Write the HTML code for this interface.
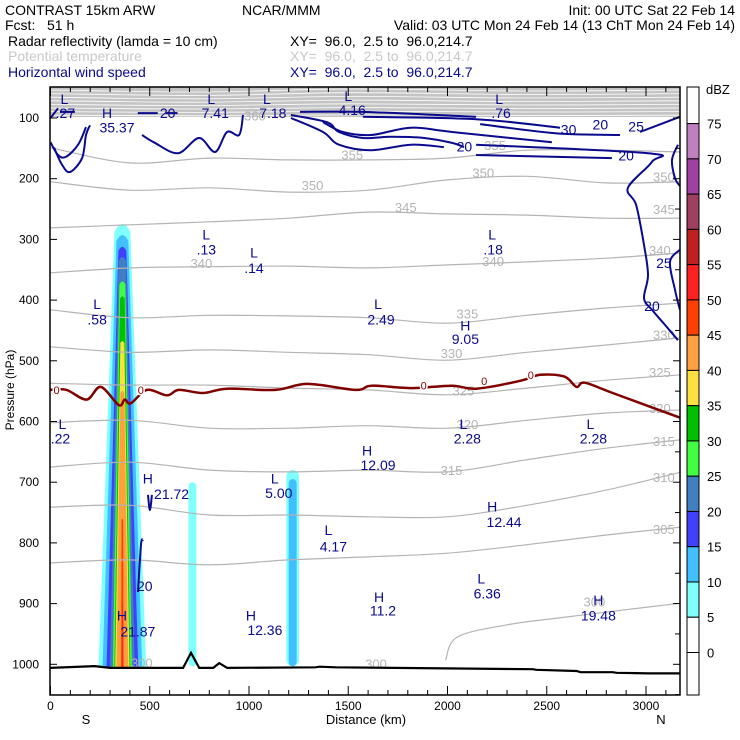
<!DOCTYPE html>
<html><head><meta charset="utf-8"><style>
html,body{margin:0;padding:0;background:#fff;}
svg{display:block;font-family:"Liberation Sans",sans-serif;}
</style></head><body>
<svg id="c" width="740" height="740" viewBox="0 0 740 740" xmlns="http://www.w3.org/2000/svg">
<g font-size="14">
<text x="5" y="15">CONTRAST 15km ARW</text>
<text x="242" y="15">NCAR/MMM</text>
<text x="735" y="15" text-anchor="end">Init: 00 UTC Sat 22 Feb 14</text>
<text x="5" y="30" xml:space="preserve">Fcst:   51 h</text>
<text x="735" y="30" text-anchor="end">Valid: 03 UTC Mon 24 Feb 14 (13 ChT Mon 24 Feb 14)</text>
<text x="8" y="46">Radar reflectivity (lamda = 10 cm)</text>
<text x="290" y="46" xml:space="preserve">XY=  96.0,  2.5 to  96.0,214.7</text>
<text x="8" y="61" fill="#c8c8c8">Potential temperature</text>
<text x="290" y="61" fill="#c8c8c8" xml:space="preserve">XY=  96.0,  2.5 to  96.0,214.7</text>
<text x="8" y="77" fill="#0a0a8c">Horizontal wind speed</text>
<text x="290" y="77" fill="#0a0a8c" xml:space="preserve">XY=  96.0,  2.5 to  96.0,214.7</text>
</g>
<defs><clipPath id="pc"><rect x="50" y="87" width="630" height="608"/></clipPath></defs>
<g id="plot" clip-path="url(#pc)"></g>
<rect x="50" y="87" width="630" height="608" fill="none" stroke="#000" stroke-width="1.5"/>
<g id="axes" font-size="12"></g>
<g id="cbar" font-size="13"></g>
<text x="366" y="724" text-anchor="middle" font-size="13">Distance (km)</text>
<text x="86" y="724" text-anchor="middle" font-size="13">S</text>
<text x="661" y="724" text-anchor="middle" font-size="13">N</text>
<text transform="translate(14,390) rotate(-90)" text-anchor="middle" font-size="12">Pressure (hPa)</text>
</svg>
<script>
// ---- data ----
const xTicks = [0,500,1000,1500,2000,2500,3000];
const yTicks = [100,200,300,400,500,600,700,800,900,1000];
const dbzLevels = [5,10,15,20,25,30,35,40,45,50];
const dbzColors = ["#80ffff","#40c0ff","#4040ff","#4080c0","#40ff40","#00c000","#ffe040","#ffa040","#ff4000","#ff2020"];
const cbarLevels = [75,70,65,60,55,50,45,40,35,30,25,20,15,10,5,0];
const cbarColors = ["#c080c0","#a040a0","#a04060","#c02020","#ff2020","#ff4000","#ffa040","#ffe040","#00c000","#40ff40","#4080c0","#4040ff","#40c0ff","#80ffff","#ffffff"];
// main convective cell
const cellKm = 362;
const cellTopP = [268,288,309,326,367,392,466,548,760,900];
const cellHwTop = [40,30,20,18,15,12,10,10,4,2];
const cellHwBot = [120,100,80,62,48,40,36,30,6,3];
// weak cells
const weakKm = [715,1220,1220];
const weakTopP = [700,680,695];
const weakHw = [20,32,20];
const weakLevel = [5,5,10];
// potential temperature
const thetaLevels = [355,350,345,340,335,330,325,320,315,310,305];
const thetaKm = [0,400,800,1200,1600,2000,2400,2800,3180];
const thetaP = [
 [149,174,166,169,169,166,153,153,156],
 [205,219,215,222,219,202,196,207,205],
 [281,276,271,265,255,258,260,265,265],
 [355,347,345,344,347,342,337,331,322],
 [416,429,425,426,429,438,425,413,405],
 [477,486,482,486,490,499,486,474,462],
 [537,540,540,545,548,556,545,532,523],
 [602,598,611,611,607,611,598,586,581],
 [675,667,680,683,680,683,663,644,630],
 [741,738,754,754,757,757,738,713,683],
 [833,828,836,828,823,817,803,787,774]];
const theta300Km = [1990,2050,2300,2600,2900,3180];
const theta300P = [993,955,935,922,910,899];
// freezing level
const frzKm = [0,81,182,253,344,374,405,486,587,647,769,890,1133,1295,1538,1618,1821,2023,2144,2367,2468,2589,2650,2691,2832,3156,3200];
const frzP = [548,548,564,543,573,564,570,548,557,548,553,546,548,538,548,541,545,541,546,533,523,526,543,536,553,592,596];
// terrain
const terKm = [0,222,300,668,708,749,820,850,890,1335,1355,1436,2428,2448,2650,2670,2832,2852,3014,3200];
const terP = [1006,1003,1006,1006,981,1006,1006,998,1006,1005,1004,1005,1008,1009,1011,1013,1013,1014,1015,1015];
// wind speed contours [km,hPa]
const windLines = [
 [[18,149],[58,177],[98,189],[159,166],[179,128],[199,112]],
 [[0,140],[38,161],[78,164],[139,144],[179,115]],
 [[0,100],[38,84]],[[48,90],[123,90]],
 [[461,128],[521,140],[642,158],[748,133],[829,156],[889,123],[950,128],[970,95]],
 [[440,92],[540,92]],[[580,92],[640,92]],
 [[1211,95],[1393,107],[1453,123],[1574,133],[1715,131],[1882,133],[2023,141],[2083,148]],
 [[1211,100],[1373,123],[1453,144],[1615,153],[1816,144],[1982,148]],
 [[1373,107],[1473,123],[1615,128],[1816,116],[2023,123],[2526,140]],
 [[2144,144],[3010,158],[3030,172],[2909,215],[2950,243],[2990,309],[3010,359],[2990,397],[3030,416],[3096,441],[3161,466]],
 [[2144,161],[2828,166]],
 [[1257,90],[1574,90],[2144,98]],
 [[1574,98],[2144,102],[2567,116]],
 [[2164,110],[2542,125],[2869,128]],
 [[2970,123],[3171,98]],
 [[3161,144],[3131,169],[3146,199],[3171,212]],
 [[3171,317],[3121,337],[3146,383],[3171,416]],
 [[491,721],[501,746],[511,721]],
 [[441,881],[456,803],[466,795]]];
const extLabels = [
 ["L",70,77],[".27",75,100],["H",285,100],["35.37",335,124],["L",810,77],["7.41",830,100],["L",1090,77],["7.18",1120,100],
 ["L",1500,72],["4.16",1520,95],["L",2260,77],[".76",2270,100],
 ["L",785,300],[".13",785,325],["L",1025,330],[".14",1025,355],["L",2225,300],[".18",2230,325],
 ["L",235,415],[".58",235,440],["L",1650,415],["2.49",1665,440],["H",2090,450],["9.05",2090,472],
 ["L",60,612],[".22",50,636],["L",2080,612],["2.28",2100,636],["L",2720,612],["2.28",2735,636],
 ["H",1595,656],["12.09",1650,680],["H",490,702],["21.72",610,728],["L",1130,702],["5.00",1150,726],
 ["H",2225,748],["12.44",2285,774],["L",1400,787],["4.17",1425,814],["L",2170,867],["6.36",2200,892],
 ["H",1655,897],["11.2",1675,920],["H",2760,902],["19.48",2760,928],["H",1010,928],["12.36",1080,952],
 ["H",360,928],["21.87",440,954]];
const windVals = [["20",590,100],["20",2085,155],["20",2900,170],["30",2610,127],["20",2770,119],["25",2950,122],["25",3090,347],["20",3030,418],["20",475,879]];
const thetaLabelPos = [[355,1520,168],[350,1320,219],[345,1790,255],[340,760,347],[340,2230,344],[350,2180,198],[355,2240,153],[360,1030,104],
 [350,3090,205],[345,3090,258],[340,3070,326],[335,2100,430],[330,2020,495],[330,3090,465],[325,2080,557],[325,3070,527],[320,2100,612],[320,3070,586],
 [315,2020,688],[315,3090,640],[310,3090,700],[305,3090,785],[300,2740,905],[300,1640,1007],[300,460,1005]];

// ---- scales ----
const X = km => 50.5 + km*0.1985;
const Y = p => 118 + (p-100)*0.607;
const NS = "http://www.w3.org/2000/svg";
const plotG = document.getElementById('plot');
const axesG = document.getElementById('axes');
const cbarG = document.getElementById('cbar');
function mk(tag, attrs, parent){const e=document.createElementNS(NS,tag);for(const k in attrs)e.setAttribute(k,attrs[k]);parent.appendChild(e);return e;}
function smooth(pts){
  if(pts.length<3) return 'M'+pts.map(p=>p[0].toFixed(1)+','+p[1].toFixed(1)).join(' L');
  let d='M'+pts[0][0].toFixed(1)+','+pts[0][1].toFixed(1);
  for(let i=0;i<pts.length-1;i++){
    const p0=pts[i-1]||pts[i],p1=pts[i],p2=pts[i+1],p3=pts[i+2]||p2;
    const c1=[p1[0]+(p2[0]-p0[0])/6,p1[1]+(p2[1]-p0[1])/6];
    const c2=[p2[0]-(p3[0]-p1[0])/6,p2[1]-(p3[1]-p1[1])/6];
    d+=` C${c1[0].toFixed(1)},${c1[1].toFixed(1)} ${c2[0].toFixed(1)},${c2[1].toFixed(1)} ${p2[0].toFixed(1)},${p2[1].toFixed(1)}`;
  }
  return d;
}

// top stratospheric band of dense theta contours
const band = mk('rect',{x:50,y:87,width:630,height:30,fill:'#c4c4c4'},plotG);


for(let i=0;i<8;i++){
  const w = mk('path',{d:smooth([[50,90+i*3.6],[200,92+i*3.4],[350,89+i*3.7],[520,91+i*3.5],[680,90+i*3.6]]),fill:'none',stroke:'#fff','stroke-width':0.8},plotG);
  
  
}

// reflectivity
for(let i=0;i<dbzLevels.length;i++){
  const yT=Y(cellTopP[i]), yB=Y(1006);
  const wT=cellHwTop[i]*0.1985, wB=cellHwBot[i]*0.1985, cx=X(cellKm);
  const d=`M${cx-wB},${yB} L${cx-wT},${yT+wT*1.5} Q${cx},${yT-wT*0.5} ${cx+wT},${yT+wT*1.5} L${cx+wB},${yB} Z`;
  const e=mk('path',{d:d,fill:dbzColors[i]},plotG);
  
  
}
for(let i=0;i<weakKm.length;i++){
  const cx=X(weakKm[i]), w=weakHw[i]*0.1985, yT=Y(weakTopP[i]), yB=Y(1003);
  const e=mk('rect',{x:cx-w,y:yT,width:2*w,height:yB-yT,rx:w,fill:dbzColors[dbzLevels.indexOf(weakLevel[i])]},plotG);
  
  
}

// theta contours
for(let i=0;i<thetaLevels.length;i++){
  const e=mk('path',{d:smooth(thetaKm.map((k,j)=>[X(k),Y(thetaP[i][j])])),fill:'none',stroke:'#b4b4b4','stroke-width':1.2},plotG);
  
  
}
const t300=mk('path',{d:smooth(theta300Km.map((k,j)=>[X(k),Y(theta300P[j])])),fill:'none',stroke:'#b4b4b4','stroke-width':1.2},plotG);


for(const [v,k,p] of thetaLabelPos){
  const t=mk('text',{x:X(k),y:Y(p),'text-anchor':'middle','font-size':13,fill:'#b4b4b4'},plotG);
  t.textContent=v;
  
  
}

// wind contours
for(const ln of windLines){
  const e=mk('path',{d:smooth(ln.map(q=>[X(q[0]),Y(q[1])])),fill:'none',stroke:'#0a0a8c','stroke-width':2},plotG);
  
  
}
for(const [v,k,p] of windVals){
  const t=mk('text',{x:X(k),y:Y(p),'text-anchor':'middle','font-size':14,fill:'#0a0a8c'},plotG);
  t.textContent=v;
  
  
}
for(const [v,k,p] of extLabels){
  const t=mk('text',{x:X(k),y:Y(p),'text-anchor':'middle','font-size':14,fill:'#0a0a8c'},plotG);
  t.textContent=v;
  
  
}

// freezing level
const frz=mk('path',{d:smooth(frzKm.map((k,j)=>[X(k),Y(frzP[j])])),fill:'none',stroke:'#800000','stroke-width':2.5},plotG);


for(const k of [0,455,2185,2420,1880]){
  const j=frzKm.findIndex(v=>v>=k);
  const t=mk('text',{x:X(k)+(k===0?6:0),y:Y(frzP[Math.max(j,0)])+4,'text-anchor':'middle','font-size':11,fill:'#800000',stroke:'#fff','stroke-width':3,'paint-order':'stroke'},plotG);
  t.textContent='0';
  
  
}

// terrain
const ter=mk('path',{d:'M'+terKm.map((k,j)=>X(k).toFixed(1)+','+Y(terP[j]).toFixed(1)).join(' L'),fill:'none',stroke:'#000','stroke-width':2.2},plotG);



// axes ticks
for(let k=0;k<=3100;k+=100){
  const big = k%500===0;
  const a=mk('line',{x1:X(k),x2:X(k),y1:695,y2:big?686:690,stroke:'#000'},axesG);
  
  
  const b=mk('line',{x1:X(k),x2:X(k),y1:87,y2:big?96:92,stroke:'#000'},axesG);
  
  
}
for(const k of xTicks){
  const t=mk('text',{x:X(k),y:710,'text-anchor':'middle'},axesG);
  t.textContent=k;
  
  
}
for(const p of yTicks){
  const a=mk('line',{x1:50,x2:57,y1:Y(p),y2:Y(p),stroke:'#000'},axesG);
  
  
  const b=mk('line',{x1:673,x2:680,y1:Y(p),y2:Y(p),stroke:'#000'},axesG);
  
  
  const t=mk('text',{x:39,y:Y(p)+4,'text-anchor':'end'},axesG);
  t.textContent=p;
  
  
}
for(let p=150;p<=1050;p+=50){ if(p%100===0) continue;
  const b=mk('line',{x1:675,x2:680,y1:Y(p),y2:Y(p),stroke:'#000'},axesG);
  
  
}

// colorbar
const cbTop=123.6, cbStep=35.26, cbX=687, cbW=12;
const cbTopBox=mk('rect',{x:cbX,y:87,width:cbW,height:cbTop-87,fill:'#fff',stroke:'#000'},cbarG);


for(let i=0;i<cbarColors.length;i++){
  const r=mk('rect',{x:cbX,y:cbTop+i*cbStep,width:cbW,height:cbStep,fill:cbarColors[i],stroke:'#000'},cbarG);
  
  
}
const cbBot=cbTop+cbarColors.length*cbStep;
const cbBotBox=mk('rect',{x:cbX,y:cbBot,width:cbW,height:695-cbBot,fill:'#fff',stroke:'#000'},cbarG);


for(let i=0;i<cbarLevels.length;i++){
  const t=mk('text',{x:707,y:cbTop+i*cbStep+5},cbarG);
  t.textContent=cbarLevels[i];
  
  
}
const unitLbl=mk('text',{x:706,y:94},cbarG);
unitLbl.textContent='dBZ';


</script>
</body></html>
